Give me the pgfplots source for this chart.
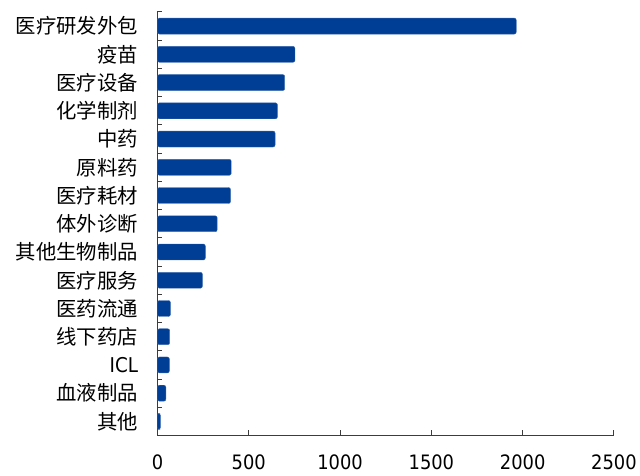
\documentclass[border=0pt]{standalone}
\usepackage{fontspec}
\setmainfont{DejaVu Sans Condensed}
\newfontfamily\cjk{Noto Sans CJK SC}
\usepackage{pgfplots}
\pgfplotsset{compat=1.18}
\definecolor{barblue}{RGB}{0,62,150}
\definecolor{axgray}{RGB}{60,60,60}
\begin{document}
\begin{tikzpicture}
\begin{axis}[
  name=ax,
  scale only axis,
  width=458bp, height=425bp,
  xbar,
  bar width=16bp,
  xmin=0, xmax=2500,
  ymin=-0.5, ymax=14.5,
  y dir=reverse,
  axis x line*=bottom,
  axis y line*=left,
  axis line style={axgray, line width=0.8pt},
  xtick={0,500,...,2500},
  ytick={0,...,14},
  yticklabels={{\cjk 医疗研发外包},{\cjk 疫苗},{\cjk 医疗设备},{\cjk 化学制剂},{\cjk 中药},{\cjk 原料药},{\cjk 医疗耗材},{\cjk 体外诊断},{\cjk 其他生物制品},{\cjk 医疗服务},{\cjk 医药流通},{\cjk 线下药店},ICL,{\cjk 血液制品},{\cjk 其他}},
  minor ytick={-0.5,0.5,...,14.5},
  major tick length=6bp,
  minor tick length=5bp,
  every tick/.append style={axgray, line width=1pt},
  major y tick style={draw=none},
  minor y tick style={draw=axgray, line width=1pt},
  tick align=inside,
  xticklabel style={font=\fontsize{20}{22}\selectfont, yshift=-16bp},
  yticklabel style={font=\fontsize{20.5}{22}\selectfont, xshift=-16bp},
  /pgf/number format/assume math mode=true,
  /pgf/number format/1000 sep={},
  clip=false,
]
\addplot[fill=barblue, draw=barblue!80, rounded corners=2bp] coordinates {
(1965,0) (753,1) (697,2) (657,3) (644,4) (404,5) (400,6) (327,7) (262,8) (246,9) (71,10) (67,11) (65,12) (46,13) (16,14)
};
\end{axis}
\path (ax.south west)+(-158bp,-40bp) coordinate (bl);
\path (ax.north east)+(24bp,12bp) coordinate (tr);
\path (bl) rectangle (tr);
\end{tikzpicture}
\end{document}
